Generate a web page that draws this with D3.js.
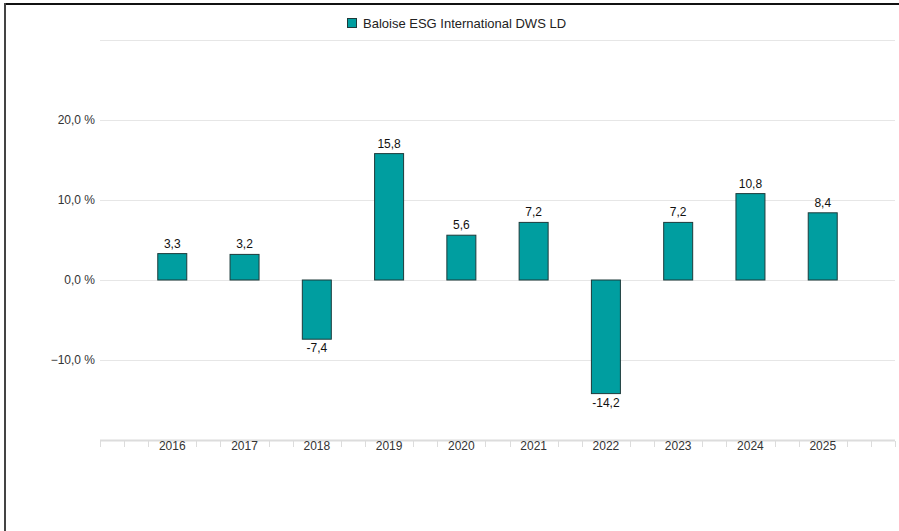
<!DOCTYPE html>
<html>
<head>
<meta charset="utf-8">
<script src="https://cdn.jsdelivr.net/npm/d3@7"></script>
<style>
  body { margin: 0; background: #fff; }
  text { font-family: "Liberation Sans", Arial, sans-serif; }
</style>
</head>
<body>
<div id="chart"></div>
<script>
// data
var years = ["2016", "2017", "2018", "2019", "2020", "2021", "2022", "2023", "2024", "2025"];
var values = [3.3, 3.2, -7.4, 15.8, 5.6, 7.2, -14.2, 7.2, 10.8, 8.4];
var yTicks = [-20, -10, 0, 10, 20, 30];
var yLabelTicks = [-10, 0, 10, 20];
var seriesName = "Baloise ESG International DWS LD";

var width = 899, height = 531;
var plotLeft = 100, plotRight = 895;
var barWidth = 29;

var svg = d3.select("#chart").append("svg")
    .attr("width", width)
    .attr("height", height);

// frame (top + left only)
svg.append("line").attr("x1", 4).attr("x2", width).attr("y1", 4).attr("y2", 4)
    .style("stroke", "#111").style("stroke-width", 2);
svg.append("line").attr("x1", 5).attr("x2", 5).attr("y1", 3).attr("y2", height)
    .style("stroke", "#444").style("stroke-width", 2);

// scales - years sit on a point scale padded by one empty slot each side
var x = d3.scalePoint()
    .domain(["pre"].concat(years, ["post"]))
    .range([plotLeft, plotRight]);
var step = x.step();

var y = d3.scaleLinear().domain([-20, 30]).range([440, 40]);

// gridlines
svg.append("g").selectAll("line")
    .data(yTicks)
    .enter().append("line")
    .attr("x1", plotLeft).attr("x2", plotRight)
    .attr("y1", function(d) { return y(d) + 0.5; })
    .attr("y2", function(d) { return y(d) + 0.5; })
    .style("stroke", function(d) { return d === -20 ? "#dcdcdc" : "#e6e6e6"; })
    .style("stroke-width", function(d) { return d === -20 ? 2 : 1; });

// y labels
svg.append("g").selectAll("text")
    .data(yLabelTicks)
    .enter().append("text")
    .attr("x", 95)
    .attr("y", function(d) { return y(d) + 4; })
    .attr("text-anchor", "end")
    .style("font-size", "12px")
    .style("fill", "#333")
    .text(function(d) { return d3.format(".1f")(d).replace(".", ",").replace("-", "-") + " %"; });

// small x ticks, three per year step, hidden under the year labels
var tickPos = d3.range(0, 34).map(function(i) { return plotLeft + i * step / 3; });
svg.append("g").selectAll("line")
    .data(tickPos.filter(function(d, i) { return i % 3 !== 0 || i === 0 || i === 33; }))
    .enter().append("line")
    .attr("x1", function(d) { return Math.round(d) + 0.5; })
    .attr("x2", function(d) { return Math.round(d) + 0.5; })
    .attr("y1", 441).attr("y2", 447)
    .style("stroke", "#dcdcdc");

// year labels
svg.append("g").selectAll("text")
    .data(years)
    .enter().append("text")
    .attr("x", function(d) { return x(d); })
    .attr("y", 450)
    .attr("text-anchor", "middle")
    .style("font-size", "12px")
    .style("fill", "#333")
    .text(function(d) { return d; });

// bars
svg.append("g").selectAll("rect")
    .data(values)
    .enter().append("rect")
    .attr("x", function(d, i) { return x(years[i]) - barWidth / 2; })
    .attr("y", function(d) { return y(Math.max(0, d)); })
    .attr("width", barWidth)
    .attr("height", function(d) { return Math.abs(y(d) - y(0)); })
    .style("fill", "#009EA0")
    .style("stroke", "#1d3b3b")
    .style("stroke-width", 1);

// data labels
svg.append("g").selectAll("text")
    .data(values)
    .enter().append("text")
    .attr("x", function(d, i) { return x(years[i]); })
    .attr("y", function(d) { return d >= 0 ? y(d) - 6 : y(d) + 13; })
    .attr("text-anchor", "middle")
    .style("font-size", "12px")
    .style("fill", "#111")
    .text(function(d) { return d3.format(".1f")(d).replace(".", ",").replace("−", "-"); });

// legend
svg.append("rect")
    .attr("x", 347.5).attr("y", 18.5)
    .attr("width", 9).attr("height", 9)
    .style("fill", "#009EA0")
    .style("stroke", "#1d3b3b");
svg.append("text")
    .attr("x", 363).attr("y", 27.5)
    .style("font-size", "13px")
    .style("fill", "#222")
    .text(seriesName);
</script>
</body>
</html>
